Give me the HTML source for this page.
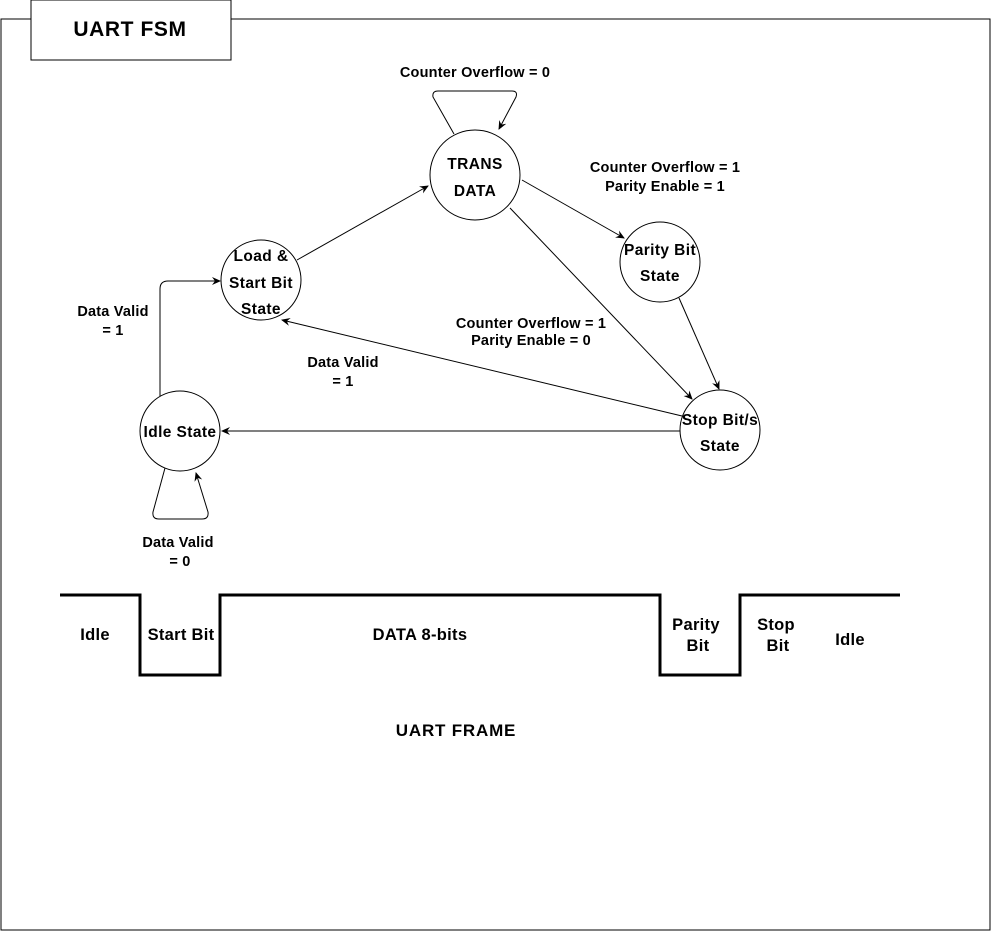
<!DOCTYPE html>
<html><head><style>
body{margin:0;background:#fff;}
svg text{font-family:"Liberation Sans",Arial,sans-serif;font-weight:bold;fill:#000;}
</style></head><body>
<svg width="991" height="931" viewBox="0 0 991 931" xmlns="http://www.w3.org/2000/svg">
<defs><marker id="a" markerWidth="10" markerHeight="10" refX="8" refY="5" orient="auto" markerUnits="userSpaceOnUse"><path d="M0,1 L9,5 L0,9 L3,5 Z" fill="#000"/></marker></defs>
<rect x="1" y="19" width="989" height="911" fill="#fff" stroke="#000"/>
<rect x="31" y="0" width="200" height="60" fill="#fff" stroke="#000"/>
<text x="130" y="36" font-size="21" letter-spacing="0.6" text-anchor="middle">UART FSM</text>
<g fill="#fff" stroke="#000" stroke-width="1">
<circle cx="475" cy="175" r="45"/>
<circle cx="261" cy="280" r="40"/>
<circle cx="660" cy="262" r="40"/>
<circle cx="720" cy="430" r="40"/>
<circle cx="180" cy="431" r="40"/>
</g>
<g stroke="#000" fill="none" stroke-width="1">
<path d="M454,134 L433,97 Q432,91 438,91 L512,91 Q518,91 516,97 L499,129" marker-end="url(#a)"/>
<path d="M297,260 L428,186" marker-end="url(#a)"/>
<path d="M522,180 L624,238" marker-end="url(#a)"/>
<path d="M510,208 L692,399" marker-end="url(#a)"/>
<path d="M679,298 L719,389" marker-end="url(#a)"/>
<path d="M682,416 L282,320" marker-end="url(#a)"/>
<path d="M680,431 L222,431" marker-end="url(#a)"/>
<path d="M160,396 L160,289 Q160,281 168,281 L220,281" marker-end="url(#a)"/>
<path d="M165,468 L153,512 Q152,519 159,519 L202,519 Q209,519 208,512 L196,473" marker-end="url(#a)"/>
</g>
<g font-size="15.5" letter-spacing="0.4" text-anchor="middle">
<text x="475" y="169">TRANS</text><text x="475" y="196">DATA</text>
<text x="261" y="261">Load &amp;</text><text x="261" y="288">Start Bit</text><text x="261" y="314">State</text>
<text x="660" y="255">Parity Bit</text><text x="660" y="281">State</text>
<text x="720" y="425">Stop Bit/s</text><text x="720" y="451">State</text>
<text x="180" y="437">Idle State</text>
</g>
<g font-size="14.5" letter-spacing="0.2" text-anchor="middle">
<text x="475" y="77">Counter Overflow = 0</text>
<text x="665" y="172">Counter Overflow = 1</text><text x="665" y="191">Parity Enable = 1</text>
<text x="531" y="328">Counter Overflow = 1</text><text x="531" y="345">Parity Enable = 0</text>
<text x="343" y="367">Data Valid</text><text x="343" y="386">= 1</text>
<text x="113" y="316">Data Valid</text><text x="113" y="335">= 1</text>
<text x="178" y="547">Data Valid</text><text x="180" y="566">= 0</text>
</g>
<path d="M60,595 H140 V675 H220 V595 H660 V675 H740 V595 H900" fill="none" stroke="#000" stroke-width="3"/>
<g font-size="16.5" letter-spacing="0.3" text-anchor="middle">
<text x="95" y="640">Idle</text>
<text x="181" y="640">Start Bit</text>
<text x="420" y="640">DATA 8-bits</text>
<text x="696" y="630">Parity</text><text x="698" y="651">Bit</text>
<text x="776" y="630">Stop</text><text x="778" y="651">Bit</text>
<text x="850" y="645">Idle</text>
<text x="456" y="736" font-size="17" letter-spacing="0.8">UART FRAME</text>
</g>
</svg>
</body></html>
